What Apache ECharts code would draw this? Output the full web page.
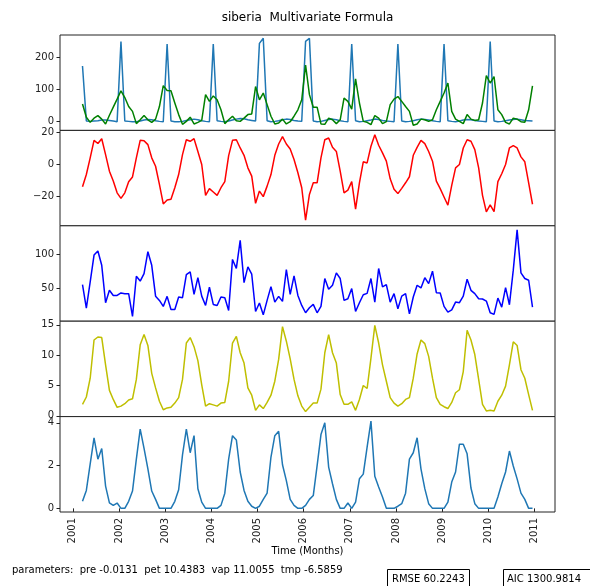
<!DOCTYPE html>
<html><head><meta charset="utf-8">
<script src="https://cdn.jsdelivr.net/npm/echarts@6/dist/echarts.min.js"></script>
<style>html,body{margin:0;padding:0;background:#fff}#c{width:590px;height:586px}</style>
</head><body><div id="c"></div>
<script>
// monthly samples, Mar 2001 .. Dec 2010 (118 months)
const startYear = 2001, startMonth = 3, nMonths = 118;
const months = [];
for (let i = 0; i < nMonths; i++) { const m = startMonth - 1 + i; months.push([startYear + Math.floor(m / 12), (m % 12) + 1]); }

const observed = [173,2,1,2,3,5,5,4,2,0, 249,2,1,0,0,2,5,7,6,3, 1,0,241,2,0,0,1,4,6,8, 6,3,1,0,241,3,1,0,2,5,
  8,10,9,6,4,2,243,259,3,0, 1,3,6,8,7,4,2,1,249,259, 2,0,1,4,7,8,6,3,1,0, 241,3,0,1,3,5,8,7,4,2,
  1,0,241,2,0,1,3,6,8,7, 5,3,1,0,241,3,1,0,2,5, 7,6,4,2,1,0,249,2,0,1, 3,5,7,8,6,4,3,2];
const modelled = [55,14,-2,11,19,8,-7,20,45,70, 96,75,47,32,-6,6,19,6,-2,8, 47,112,97,96,58,22,-8,1,14,-7,
  -2,4,84,63,80,68,37,-6,6,17, 3,1,11,22,24,109,68,89,53,17, -7,-4,8,-7,0,17,37,68,176,84,
  45,45,-7,-8,11,6,-6,6,73,63, 39,133,58,1,-2,-9,19,11,-6,0, 53,70,78,63,47,32,-11,-7,8,6,
  1,6,37,63,89,120,32,8,1,-6, 22,8,4,6,58,143,120,140,37,22, -2,-7,11,8,0,-2,37,111];
const tmp = [-14.2,-6.5,4,15,13,16,6,-4.4,-10.6,-18, -21.5,-18,-11,-8,4,15,14.8,12.3,4,-1.3,
  -12.7,-25,-22.5,-22,-14.8,-6.5,6,15.4,14.4,16, 8,-0.2,-19.6,-15.4,-17.5,-19.6,-14.8,-11,5.4,15,
  15.4,10.2,5.6,-2.3,-7.5,-24.6,-16.9,-20.4,-13.8,-6.5, 5.6,12.7,17.3,12.7,9.6,2.9,-5.4,-14.8,-35.2,-19,
  -11.7,-11.7,4,15.4,16.5,10.6,8,-4.4,-18,-16.3, -11,-28.3,-11.7,1.5,0.8,11.3,18.5,11.9,7.1,1.9,
  -9.2,-15.8,-18.5,-15.2,-11.7,-7.9,5.6,10.6,15,12.9, 8,1.9,-10.6,-15.4,-20.6,-25.8,-13.3,-2.3,-0.2,10.2,
  15.4,14.4,9.2,-2.3,-19.6,-30,-25.6,-29.8,-11,-6, -0.2,10.2,11.7,10.2,4.6,1.5,-11.7,-25.2];
const pre = [55.8,21.5,59.8,98.9,105,84,29.4,47.5,40,40, 43.6,42.6,42.6,9.3,68,61,72,103.9,84,39,
  32.8,24,38.7,19.5,19.5,37.7,36.7,70.5,74.5,41.6, 66,39,25.4,52,26.9,25.4,37.7,36.7,18,92.6,
  79.4,120.5,58.8,81.8,71,16.6,28.9,11.7,32.8,52.9, 30.3,38.7,31.3,77.9,41.6,68.6,40,25.4,14.7,22,
  26.9,14.7,24,64.7,49,54.9,73,64.7,32.8,35.2, 50,16.6,29.4,41,43,64.7,30.3,79.4,52.4,55.8,
  30.3,42.6,20.5,39,42.6,13.2,37.7,54.9,50.9,66, 57.3,75.4,44,43.6,24,15.6,19,30.3,29.4,39,
  63.7,47.5,42.6,35.2,34.8,31.8,14.7,12.3,36.2,23, 51.4,26.4,76.9,135.7,73,64.7,62.2,23];
const vap = [1.9,3.1,6.2,12.5,13,12.9,8.4,4.2,2.7,1.4, 1.6,2,2.6,2.8,6,11.7,13.4,11.6,7,4.6,
  2.4,1,1.3,1.4,2.1,3,6,12,12.9,11.4, 9.1,5.1,1.6,2,1.8,1.6,2.1,2.2,5.7,12,
  13.1,10.4,8.7,4.6,3.4,0.9,1.8,1.2,2.2,3.4, 5.7,9.3,14.7,12.3,9.4,6,3.3,1.6,0.7,1.4,
  2.1,2.1,4.4,10.4,13.4,10.4,8.7,3.5,1.9,1.9, 2.3,0.9,2.7,5,4.5,9.5,14.9,12,8.4,5.7,
  3,2.1,1.6,2,2.7,3,6.2,10.2,12.5,11.9, 9.8,6.2,3,1.9,1.5,1.2,2.2,3.8,4.3,7.3,
  14.1,12.5,10.1,6,1.9,0.8,0.9,0.8,2.4,3.4, 4.9,8.4,12.2,11.6,7.6,6.2,3.5,0.9];
const pet = [0.33,0.84,2.08,3.3,2.3,2.8,1.04,0.26,0.14,0.25, 0,0,0.33,0.81,2.3,3.7,2.8,1.85,0.81,0.42,
  0,0,0,0,0.33,0.87,2.5,3.7,2.6,3.4, 0.92,0.29,0,0,0,0,0.14,0.71,2.3,3.4,
  3.2,1.7,0.84,0.33,0.1,0,0.1,0.42,0.71,2.4, 3.4,3.6,2.04,1.3,0.42,0.14,0,0,0.14,0.42,
  0.6,2.0,3.45,4.0,1.93,1.15,0.42,0,0,0.25, 0,0.29,1.38,1.6,2.86,4.08,1.5,1.0,0.53,0,
  0,0,0.1,0.22,0.71,2.3,2.6,3.3,1.85,0.92, 0.22,0,0,0,0,0.29,1.23,1.7,3.0,3.0,
  2.55,0.95,0.22,0,0,0,0,0,0.53,1.15, 1.7,2.68,1.98,1.38,0.71,0.42,0,0];

const xTicks = [2001,2002,2003,2004,2005,2006,2007,2008,2009,2010,2011];
const yTicks = [[0,100,200],[-20,0,20],[50,100],[0,5,10,15],[0,2,4]];
const yRanges = [[-27,269],[-38.75,21.25],[2.4,141.7],[-0.13,15.6],[-0.17,4.29]];
const titleText = 'siberia  Multivariate Formula';
const xName = 'Time (Months)';
const paramText = 'parameters:  pre -0.0131  pet 10.4383  vap 11.0055  tmp -6.5859';
const rmseText = 'RMSE 60.2243';
const aicText = 'AIC 1300.9814';

const xs = months.map(([y, m]) => y + (m - 0.5) / 12);
const pts = arr => arr.map((v, i) => [xs[i], v]);
const xMin = xs[0] - 0.05 * (xs[xs.length-1] - xs[0]);
const xMax = xs[xs.length-1] + 0.05 * (xs[xs.length-1] - xs[0]);

const FONT = 'DejaVu Sans';
const top0 = 35, bottom0 = 512, H = (bottom0 - top0) / 5;
const grids = [], xAxes = [], yAxes = [];
const fmt = v => v < 0 ? '\u2212' + Math.abs(v) : String(v);
for (let i = 0; i < 5; i++) {
  grids.push({left: 60, right: 35, top: top0 + i * H, height: H, show: true, borderColor: '#222', borderWidth: 1, backgroundColor: '#fff'});
  const last = i === 4;
  xAxes.push({type: 'value', gridIndex: i, min: xMin, max: xMax, splitLine: {show: false},
    axisLine: {show: false},
    axisTick: {show: last, length: 3.5, lineStyle: {color: '#222'}, customValues: xTicks},
    axisLabel: {show: last, rotate: 90, margin: 6, fontFamily: FONT, fontSize: 10, color: '#222', customValues: xTicks, formatter: v => String(v)}});
  yAxes.push({type: 'value', gridIndex: i, min: yRanges[i][0], max: yRanges[i][1], splitLine: {show: false},
    axisLine: {show: false},
    axisTick: {show: true, length: 3.5, lineStyle: {color: '#222'}, customValues: yTicks[i]},
    axisLabel: {show: true, margin: 6, fontFamily: FONT, fontSize: 10, color: '#222', customValues: yTicks[i], formatter: fmt}});
}
const line = (data, idx, color) => ({type: 'line', xAxisIndex: idx, yAxisIndex: idx, data: pts(data), showSymbol: false,
  lineStyle: {color, width: 1.5}, itemStyle: {color}, animation: false, silent: true});

const chart = echarts.init(document.getElementById('c'), null, {renderer: 'canvas'});
chart.setOption({
  animation: false,
  backgroundColor: '#fff',
  grid: grids, xAxis: xAxes, yAxis: yAxes,
  series: [
    line(observed, 0, '#1f77b4'), line(modelled, 0, '#008000'),
    line(tmp, 1, '#ff0000'), line(pre, 2, '#0000ff'), line(vap, 3, '#bfbf00'), line(pet, 4, '#1f77b4')
  ],
  graphic: [
    {type: 'text', x: 307.5, y: 18, style: {text: titleText, fill: '#000', font: '12px "DejaVu Sans"', textAlign: 'center', textVerticalAlign: 'middle'}},
    {type: 'text', x: 307.5, y: 551, style: {text: xName, fill: '#000', font: '10px "DejaVu Sans"', textAlign: 'center', textVerticalAlign: 'middle'}},
    {type: 'text', x: 12, y: 570, style: {text: paramText, fill: '#000', font: '10px "DejaVu Sans"', textAlign: 'left', textVerticalAlign: 'middle'}},
    {type: 'rect', shape: {x: 387.5, y: 569.5, width: 82, height: 24}, style: {fill: '#fff', stroke: '#000', lineWidth: 1}},
    {type: 'text', x: 392, y: 579.5, style: {text: rmseText, fill: '#000', font: '10px "DejaVu Sans"', textAlign: 'left', textVerticalAlign: 'middle'}},
    {type: 'rect', shape: {x: 503.5, y: 569.5, width: 100, height: 24}, style: {fill: '#fff', stroke: '#000', lineWidth: 1}},
    {type: 'text', x: 507, y: 579.5, style: {text: aicText, fill: '#000', font: '10px "DejaVu Sans"', textAlign: 'left', textVerticalAlign: 'middle'}}
  ]
});
</script></body></html>
